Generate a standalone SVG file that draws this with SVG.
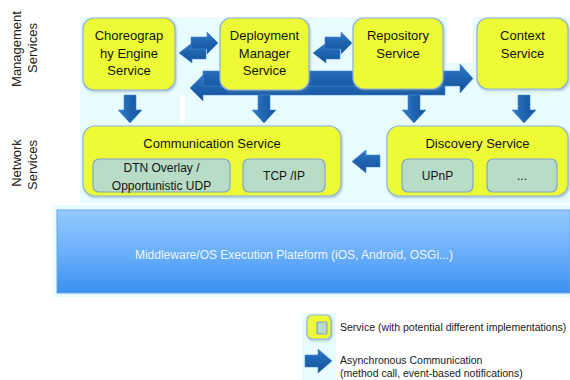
<svg xmlns="http://www.w3.org/2000/svg" width="570" height="380" viewBox="0 0 570 380">
<defs>
<style>
.bg{fill:#e8fcff}
.svc{fill:#ecfb36;stroke:#8fb3d9;stroke-width:1.2}
.sub{fill:#b8dcc5;stroke:#7ea6cc;stroke-width:1.2}
.t{font-family:"Liberation Sans",Arial,sans-serif;font-size:13px;fill:#141414;text-anchor:middle}
.ts{font-family:"Liberation Sans",Arial,sans-serif;font-size:12px;fill:#141414;text-anchor:middle}
.lbl{font-family:"Liberation Sans",Arial,sans-serif;font-size:13px;fill:#222;text-anchor:middle}
.leg{font-family:"Liberation Sans",Arial,sans-serif;font-size:10.5px;fill:#1a1a1a}
.ah{fill:url(#gh);stroke:#3f86d0;stroke-width:0.6}
.av{fill:url(#gv);stroke:#3f86d0;stroke-width:0.6}
</style>
<linearGradient id="gh" x1="0" y1="0" x2="0" y2="1">
<stop offset="0" stop-color="#2f7bcc"/>
<stop offset="0.45" stop-color="#1f64b0"/>
<stop offset="1" stop-color="#16529a"/>
</linearGradient>
<linearGradient id="gv" x1="0" y1="0" x2="1" y2="0">
<stop offset="0" stop-color="#2f7bcc"/>
<stop offset="0.5" stop-color="#1f64b0"/>
<stop offset="1" stop-color="#16529a"/>
</linearGradient>
<linearGradient id="gb" x1="0" y1="0" x2="0" y2="1">
<stop offset="0" stop-color="#93caff"/>
<stop offset="0.5" stop-color="#6cb0fb"/>
<stop offset="1" stop-color="#3a8ff0"/>
</linearGradient>
<filter id="sh" x="-10%" y="-10%" width="125%" height="130%">
<feDropShadow dx="1" dy="1.5" stdDeviation="1" flood-color="#6a8aa0" flood-opacity="0.45"/>
</filter>
</defs>

<!-- backgrounds -->
<g id="backgrounds">
<rect class="bg" x="80" y="17" width="100" height="186"/>
<rect class="bg" x="180" y="17" width="5" height="78"/>
<rect class="bg" x="180" y="123" width="5" height="80"/>
<rect class="bg" x="185" y="17" width="262" height="186"/>
<rect class="bg" x="447" y="63" width="26" height="140"/>
<rect class="bg" x="473" y="17" width="97" height="186"/>
<rect class="bg" x="53" y="205" width="517" height="92"/>
<rect class="bg" x="302" y="313" width="34" height="67"/>
</g>

<!-- side labels -->
<g id="labels">
<text class="lbl" transform="translate(21,49) rotate(-90)">Management</text>
<text class="lbl" transform="translate(37,48) rotate(-90)">Services</text>
<text class="lbl" transform="translate(21,163) rotate(-90)">Network</text>
<text class="lbl" transform="translate(37,165) rotate(-90)">Services</text>
</g>

<!-- connectors -->
<g id="connectors">
<polygon class="ah" points="445,81 203,81 203,75 190,88 203,101 203,95 445,95"/>
<polygon class="ah" points="203,71 460,71 460,64 473,78.5 460,93 460,86 203,86"/>
<polygon class="ah" points="206,47 192,47 192,43 179,53 192,63 192,59 206,59"/>
<polygon class="ah" points="191,37 207,37 207,32 218,43 207,54 207,49 191,49"/>
<polygon class="ah" points="340,47 326,47 326,43 313,53 326,63 326,59 340,59"/>
<polygon class="ah" points="325,37 341,37 341,32 352,43 341,54 341,49 325,49"/>
<polygon class="av" points="124,95 136,95 136,110 142,110 130,123 118,110 124,110"/>
<polygon class="av" points="258,95 270,95 270,110 276,110 264,123 252,110 258,110"/>
<polygon class="av" points="408,95 420,95 420,110 426,110 414,123 402,110 408,110"/>
<polygon class="av" points="518,95 530,95 530,110 536,110 524,123 512,110 518,110"/>
<polygon class="ah" points="380,155 366,155 366,150 352,161.5 366,173 366,167 380,167"/>
</g>

<!-- top row services -->
<g id="choreography">
<rect class="svc" filter="url(#sh)" x="83" y="18" width="92" height="72" rx="11"/>
<text class="t" x="129" y="40">Choreograp</text>
<text class="t" x="129" y="58">hy Engine</text>
<text class="t" x="129" y="75">Service</text>
</g>
<g id="deployment">
<rect class="svc" filter="url(#sh)" x="220" y="18" width="89" height="72" rx="11"/>
<text class="t" x="264.5" y="40">Deployment</text>
<text class="t" x="264.5" y="58">Manager</text>
<text class="t" x="264.5" y="75">Service</text>
</g>
<g id="repository">
<rect class="svc" filter="url(#sh)" x="353" y="18" width="90" height="71" rx="11"/>
<text class="t" x="398" y="40">Repository</text>
<text class="t" x="398" y="58">Service</text>
</g>
<g id="context">
<rect class="svc" filter="url(#sh)" x="477" y="18" width="91" height="71" rx="11"/>
<text class="t" x="522.5" y="40">Context</text>
<text class="t" x="522.5" y="58">Service</text>
</g>

<!-- network services -->
<g id="communication">
<rect class="svc" filter="url(#sh)" x="83" y="126" width="258" height="70" rx="12"/>
<text class="t" x="212" y="148">Communication Service</text>
<g id="dtn">
<rect class="sub" x="93" y="159" width="137" height="33" rx="6"/>
<text class="ts" x="161.5" y="172">DTN Overlay /</text>
<text class="ts" x="161.5" y="190">Opportunistic UDP</text>
</g>
<g id="tcpip">
<rect class="sub" x="243" y="159" width="82" height="33" rx="6"/>
<text class="ts" x="284" y="180">TCP /IP</text>
</g>
</g>
<g id="discovery">
<rect class="svc" filter="url(#sh)" x="387" y="126" width="181" height="70" rx="12"/>
<text class="t" x="477.5" y="148">Discovery Service</text>
<g id="upnp">
<rect class="sub" x="402" y="159" width="71" height="33" rx="6"/>
<text class="ts" x="437.5" y="180">UPnP</text>
</g>
<g id="more">
<rect class="sub" x="487" y="159" width="70" height="33" rx="6"/>
<text class="ts" x="522" y="180">...</text>
</g>
</g>

<!-- platform -->
<g id="platform">
<rect x="57" y="210" width="513" height="83" fill="url(#gb)" stroke="#6aa6e6" stroke-width="1"/>
<text x="294" y="259" font-family="'Liberation Sans',Arial,sans-serif" font-size="12" fill="#eef6ff" text-anchor="middle">Middleware/OS Execution Plateform (iOS, Androïd, OSGi...)</text>
</g>

<!-- legend -->
<g id="legend">
<rect class="svc" x="307" y="315" width="24" height="24" rx="5" filter="url(#sh)"/>
<rect class="sub" x="317" y="322" width="10" height="12" rx="1.5"/>
<text class="leg" x="340" y="331">Service (with potential different implementations)</text>
<polygon class="ah" points="305,355 318,355 318,349 332,361 318,373 318,367 305,367"/>
<text class="leg" x="340" y="364">Asynchronous Communication</text>
<text class="leg" x="340" y="377">(method call, event-based notifications)</text>
</g>
</svg>
